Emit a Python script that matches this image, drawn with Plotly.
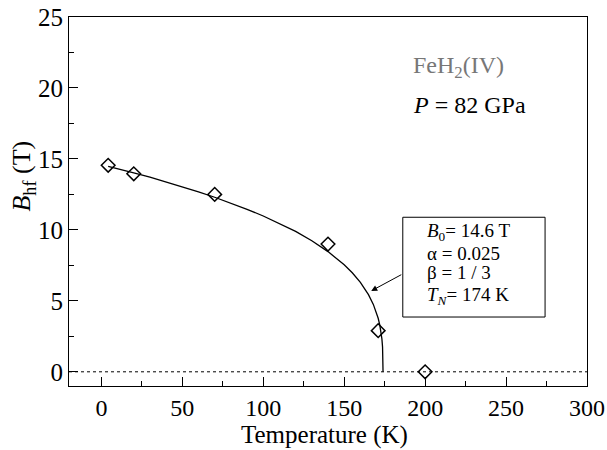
import plotly.graph_objects as go

# measured data
temp_K = [4.2, 20, 70, 140, 171, 200]
bhf_T = [14.55, 13.95, 12.5, 9.0, 2.9, 0.0]

# fitted curve
curve_T = [4.2, 10, 20, 30, 40, 50, 60, 70, 80, 90, 100, 110, 120, 130, 140,
           150, 155, 160, 165, 168, 170, 171, 172, 173, 173.3, 173.7, 173.9, 174]
curve_B = [14.48, 14.32, 14.02, 13.71, 13.38, 13.04, 12.68, 12.30, 11.89, 11.45,
           10.98, 10.46, 9.89, 9.23, 8.47, 7.54, 6.98, 6.30, 5.44, 4.75, 4.15,
           3.77, 3.29, 2.61, 2.32, 1.75, 1.21, 0.0]

x_ticks = [0, 50, 100, 150, 200, 250, 300]
y_ticks = [0, 5, 10, 15, 20, 25]

fit_lines = ["<i>B</i><sub>0</sub>= 14.6 T", "α = 0.025", "β = 1 / 3", "<i>T<sub>N</sub></i>= 174 K"]
fit_line_y = [9.85, 8.35, 7.00, 5.35]

FONT = "Liberation Serif, Times New Roman, serif"

fig = go.Figure()
fig.add_trace(go.Scatter(x=[-20, 300], y=[0, 0], mode="lines",
                         line=dict(color="black", width=1, dash="dot"),
                         showlegend=False, hoverinfo="skip"))
fig.add_trace(go.Scatter(x=curve_T, y=curve_B, mode="lines",
                         line=dict(color="black", width=1.3),
                         showlegend=False))
fig.add_trace(go.Scatter(x=temp_K, y=bhf_T, mode="markers",
                         marker=dict(symbol="diamond-open", size=10.5,
                                     color="black", line=dict(width=1.5, color="black")),
                         showlegend=False))

# fit parameter box
fig.add_shape(type="rect", xref="x", yref="y", x0=186.2, x1=274.1, y0=3.86, y1=10.89,
              line=dict(color="black", width=1), fillcolor="white", layer="above")
for txt, yy in zip(fit_lines, fit_line_y):
    fig.add_annotation(x=200.0, y=yy, xref="x", yref="y", text=txt, showarrow=False,
                       xanchor="left", yanchor="middle",
                       font=dict(family=FONT, size=19, color="black"))

# arrow from box to curve
fig.add_annotation(x=166.7, y=5.7, ax=186.2, ay=6.9, xref="x", yref="y",
                   axref="x", ayref="y", text="", showarrow=True,
                   arrowhead=2, arrowsize=1.2, arrowwidth=1, arrowcolor="black")

fig.add_annotation(x=191.4, y=21.5, xref="x", yref="y", text="FeH<sub>2</sub>(IV)",
                   showarrow=False, xanchor="left", yanchor="middle",
                   font=dict(family=FONT, size=24, color="#777777"))
fig.add_annotation(x=191.4, y=18.8, xref="x", yref="y", text="<i>P</i> = 82 GPa",
                   showarrow=False, xanchor="left", yanchor="middle",
                   font=dict(family=FONT, size=24, color="black"))

# axis titles
fig.add_annotation(x=-0.089, y=0.57, xref="paper", yref="paper",
                   text="<i>B</i><sub>hf</sub> (T)", textangle=-90, showarrow=False,
                   xanchor="center", yanchor="middle",
                   font=dict(family=FONT, size=26, color="black"))
fig.add_annotation(x=0.494, y=-0.134, xref="paper", yref="paper",
                   text="Temperature (K)", showarrow=False,
                   xanchor="center", yanchor="middle",
                   font=dict(family=FONT, size=25, color="black"))

fig.update_xaxes(range=[-20, 300], tickvals=x_ticks, ticks="inside", ticklen=9,
                 tickwidth=1, tickcolor="black", showline=True, linecolor="black",
                 linewidth=1.2, mirror=True, showgrid=False, zeroline=False,
                 automargin=False,
                 tickfont=dict(family=FONT, size=24, color="black"),
                 minor=dict(ticks="inside", ticklen=5, dtick=25, tick0=0,
                            tickcolor="black", showgrid=False))
fig.update_yaxes(range=[-1, 25], tickvals=y_ticks, ticks="inside", ticklen=9,
                 tickwidth=1, tickcolor="black", showline=True, linecolor="black",
                 linewidth=1.2, mirror=True, showgrid=False, zeroline=False,
                 automargin=False,
                 tickfont=dict(family=FONT, size=25, color="black"),
                 minor=dict(ticks="inside", ticklen=5, dtick=2.5, tick0=0,
                            tickcolor="black", showgrid=False))

fig.update_layout(width=607, height=450, margin=dict(l=69, r=20, t=17, b=64, autoexpand=False),
                  plot_bgcolor="white", paper_bgcolor="white",
                  font=dict(family=FONT, color="black"))

fig.write_html("out.html", config={"displayModeBar": False},
               post_script="document.body.style.margin='0px';")
